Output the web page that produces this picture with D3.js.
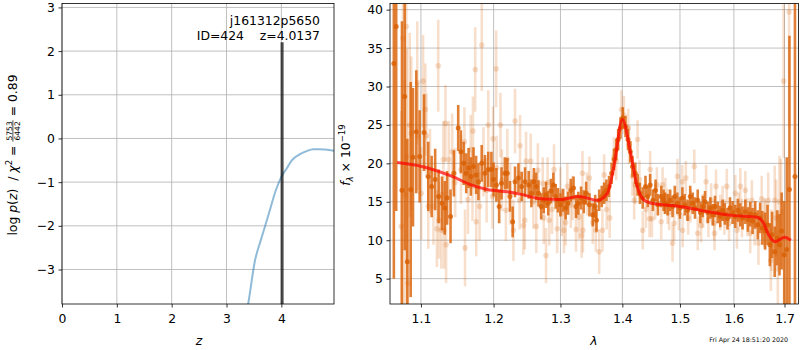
<!DOCTYPE html>
<html>
<head>
<meta charset="utf-8">
<script src="https://cdn.jsdelivr.net/npm/d3@7"></script>
<style>
  body { margin: 0; background: #fff; }
  svg { display: block; font-family: "DejaVu Sans", sans-serif; }
</style>
</head>
<body>
<svg id="fig" width="800" height="350"></svg>
<script>
// ---- redshift probability panel ----
const zGrid = [3.30, 3.40, 3.52, 3.62, 3.70, 3.80, 3.89, 4.00, 4.10, 4.19, 4.34, 4.46, 4.58, 4.70, 4.80, 4.96];
const logPz = [-4.40, -3.75, -2.79, -2.35, -2.02, -1.60, -1.22, -0.88, -0.68, -0.50, -0.36, -0.29, -0.245, -0.245, -0.255, -0.28];
const zBest = 4.0137;
const zTicks = [0, 1, 2, 3, 4];
const pTicks = [-3, -2, -1, 0, 1, 2, 3];

// ---- spectrum panel ----
// primary extraction
const waveDark = [1.0649,1.0679,1.0753,1.0788,1.0822,1.0866,1.0896,1.0939,1.0983,1.1041,1.1097,1.1142,1.1189,1.1235,1.1281,1.1318,1.1350,1.1397,1.1443,1.1502,
  1.1539,1.1577,1.1613,1.1646,1.1678,1.1715,1.1751,1.1784,1.1830,1.1876,1.1923,1.1968,1.2000,1.2040,1.2080,1.2114,1.2163,1.2199,1.2237,1.2277,
  1.2312,1.2362,1.2411,1.2460,1.2515,1.2555,1.2593,1.2629,1.2663,1.2703,1.2742,1.2777,1.2811,1.2852,1.2890,1.2926,1.2960,1.3000,1.3042,1.3081,
  1.3119,1.3162,1.3205,1.3244,1.3281,1.3325,1.3367,1.3406,1.3459,1.3513,1.3552,1.3573,1.3617,1.3659,1.3698,1.3735,1.3779,1.3821,1.3860,1.3898,
  1.3930,1.3968,1.4007,1.4053,1.4095,1.4135,1.4170,1.4218,1.4258,1.4298,1.4346,1.4393,1.4433,1.4474,1.4521,1.4568,1.4609,1.4667,1.4709,1.4732,
  1.4779,1.4825,1.4867,1.4907,1.4954,1.5000,1.5044,1.5087,1.5137,1.5185,1.5230,1.5272,1.5322,1.5370,1.5415,1.5457,1.5507,1.5556,1.5600,1.5643,
  1.5693,1.5741,1.5785,1.5828,1.5878,1.5926,1.5976,1.6027,1.6077,1.6124,1.6168,1.6221,1.6271,1.6317,1.6362,1.6414,1.6464,1.6511,1.6555,1.6607,
  1.6658,1.6704,1.6749,1.6801,1.6851,1.6898,1.6942,1.6994,1.7046,1.7100,1.7214];
const fluxDark = [33.0,37.8,16.5,28.7,7.2,16.6,20.8,24.1,20.9,24.0,18.3,17.0,17.9,15.7,14.8,14.2,15.5,13.1,18.7,24.6,
  21.5,20.0,18.7,19.4,18.3,19.6,18.5,17.6,20.0,18.7,19.2,19.2,17.9,17.2,14.4,17.4,18.7,18.7,15.7,12.4,
  17.6,18.1,17.0,17.6,17.2,16.1,17.6,17.0,16.1,14.4,15.2,15.9,14.8,16.4,17.2,15.7,15.2,14.6,15.2,14.2,
  14.8,16.5,16.8,14.4,14.8,15.5,15.0,16.1,14.6,13.3,14.4,12.6,15.2,15.7,16.1,16.5,17.0,18.7,20.5,21.8,
  23.1,24.6,25.9,24.8,23.1,21.5,19.6,18.7,17.2,16.1,15.5,17.0,15.7,17.2,15.2,16.5,14.6,15.7,15.2,14.8,
  14.6,15.2,14.4,15.7,14.8,14.2,15.5,14.6,13.9,15.7,14.8,14.2,15.2,13.6,14.4,15.0,13.6,14.2,13.3,14.4,
  13.6,13.1,13.9,13.4,12.8,14.2,13.6,13.1,13.9,13.3,12.9,13.7,12.7,13.4,12.5,13.3,12.0,12.9,11.6,11.2,
  12.0,9.4,10.7,8.5,10.3,9.4,11.2,8.1,8.8,16.6,18.3];
const errDark = [28,24,22,20,16,14,9,8,6,5,4.5,4,4,3.5,3.5,3.5,3.5,3.5,3,3,
  2.8,2.8,2.6,2.6,2.5,2.5,2.5,2.4,2.4,2.4,2.3,2.3,2.2,2.2,2.2,2.1,2.1,2.0,2.0,2.0,
  2.0,1.9,1.9,1.9,1.8,1.8,1.8,1.8,1.7,1.7,1.7,1.7,1.6,1.6,1.6,1.6,1.6,1.5,1.5,1.5,
  1.5,1.5,1.5,1.5,1.5,1.5,1.5,1.5,1.5,1.5,1.5,1.5,1.4,1.4,1.4,1.4,1.4,1.4,1.4,1.4,
  1.4,1.4,1.4,1.4,1.4,1.4,1.4,1.4,1.4,1.4,1.4,1.4,1.4,1.4,1.4,1.4,1.4,1.4,1.4,1.4,
  1.4,1.4,1.4,1.4,1.4,1.4,1.4,1.4,1.4,1.4,1.4,1.4,1.4,1.4,1.4,1.4,1.4,1.4,1.4,1.4,
  1.4,1.4,1.4,1.4,1.4,1.4,1.5,1.5,1.5,1.5,1.5,1.6,1.6,1.6,1.7,1.8,1.9,2.0,2.2,2.4,
  2.6,2.8,3.0,3.3,3.6,4.0,5,7,12,20,30];

// second extraction, drawn faint
const waveLight = [1.0744,1.0766,1.0788,1.0809,1.0815,1.0831,1.0853,1.0874,1.0952,1.0961,1.1004,1.1028,1.1059,1.1073,1.1097,1.1120,1.1166,1.1212,1.1230,1.1240,
  1.1272,1.1300,1.1308,1.1328,1.1336,1.1373,1.1419,1.1460,1.1540,1.1588,1.1596,1.1638,1.1675,1.1700,1.1707,1.1739,1.1753,1.1800,1.1831,1.1855,
  1.1900,1.1924,1.1983,1.1992,1.2036,1.2044,1.2099,1.2120,1.2178,1.2199,1.2240,1.2288,1.2312,1.2380,1.2386,1.2436,1.2456,1.2475,1.2545,1.2585,
  1.2629,1.2653,1.2727,1.2742,1.2777,1.2801,1.2826,1.2870,1.2900,1.2949,1.3000,1.3020,1.3054,1.3081,1.3107,1.3162,1.3190,1.3244,1.3290,1.3334,
  1.3347,1.3355,1.3420,1.3459,1.3513,1.3562,1.3617,1.3670,1.3698,1.3740,1.3789,1.3860,1.3898,1.3984,1.4025,1.4100,1.4112,1.4170,1.4200,1.4218,
  1.4258,1.4288,1.4346,1.4400,1.4463,1.4474,1.4504,1.4560,1.4591,1.4667,1.4691,1.4740,1.4779,1.4807,1.4867,1.4895,1.4954,1.4980,1.5040,1.5048,
  1.5106,1.5148,1.5190,1.5259,1.5322,1.5383,1.5420,1.5476,1.5519,1.5570,1.5626,1.5634,1.5661,1.5741,1.5785,1.5820,1.5865,1.5907,1.6027,1.6058,
  1.6090,1.6124,1.6155,1.6221,1.6260,1.6317,1.6348,1.6400,1.6478,1.6542,1.6594,1.6620,1.6671,1.6724,1.6735,1.6801,1.6832,1.6865,1.6898,1.6929,
  1.6981,1.7094];
const fluxLight = [11.8,36.3,15.9,37.8,20.9,4.4,25.0,23.9,30.5,23.5,16.1,30.7,27.0,23.6,14.4,19.0,14.4,11.5,32.7,12.6,
  11.3,20.5,11.3,25.2,9.4,20.5,21.5,17.5,19.2,22.8,9.0,15.3,21.8,17.0,24.2,32.2,12.4,14.4,35.4,20.2,
  16.5,25.0,15.7,23.2,32.3,19.4,25.0,17.8,13.9,20.5,16.0,11.3,25.5,15.2,22.3,11.9,12.6,20.3,20.3,15.0,
  11.8,19.1,17.4,12.9,8.0,17.5,12.6,14.0,19.2,11.5,16.4,13.5,11.3,12.3,17.0,14.6,15.5,11.4,13.0,10.6,
  18.7,11.3,16.0,18.1,12.3,11.3,8.5,11.3,18.5,14.0,12.9,20.9,20.3,27.0,26.3,24.6,22.4,18.3,15.2,17.2,
  23.1,17.9,11.3,14.0,12.8,19.2,12.8,15.0,17.2,12.4,17.2,15.8,14.4,13.6,9.6,12.2,18.3,13.5,17.6,11.3,
  18.1,12.9,14.5,19.6,10.9,11.9,13.8,17.6,12.6,15.2,12.2,10.9,17.0,13.6,14.8,13.0,17.0,12.2,16.1,11.3,
  13.8,17.0,12.9,16.5,13.0,10.9,15.2,12.0,9.6,15.4,12.3,12.0,15.2,7.4,10.0,15.2,12.9,6.3,15.0,13.6,
  30.7,39.7];
const errLight = [15,20,15,18,14,15,12,10,8,7,6,6,6,5.5,5.5,5.5,5,5,6,5,
  5,5,5,5,5,5,5,4.5,4.5,4.5,5,4.5,4.5,4.5,4.5,5.5,4.5,4.5,6,4.5,
  4.2,4.5,4.2,4.2,5,4.2,4.2,4,4,4,4,4,4.2,3.8,4,3.8,3.8,3.8,3.6,3.5,
  3.5,3.5,3.4,3.4,3.6,3.3,3.3,3.2,3.3,3.2,3.1,3.0,3.0,3.0,3.0,3.0,2.9,2.9,2.9,2.9,
  2.9,2.9,2.8,2.8,2.8,2.8,2.9,2.8,2.7,2.6,2.6,2.5,2.5,2.5,2.5,2.5,2.5,2.5,2.5,2.5,
  2.5,2.5,2.5,2.4,2.4,2.4,2.4,2.3,2.3,2.3,2.3,2.3,2.3,2.3,2.4,2.3,2.3,2.2,2.2,2.2,
  2.2,2.2,2.2,2.2,2.2,2.2,2.2,2.2,2.2,2.2,2.2,2.2,2.2,2.3,2.3,2.3,2.3,2.3,2.4,2.4,
  2.4,2.4,2.5,2.5,2.5,2.6,2.6,2.7,2.8,3.0,3.2,3.3,3.6,4,4,4.5,5,5,6,7,
  10,15];

// best-fit template
const waveModel = [1.069,1.101,1.142,1.168,1.191,1.220,1.239,1.269,1.299,1.329,1.359,1.375,1.386,1.400,1.414,1.425,1.437,1.449,1.501,1.551,1.600,1.645,1.658,1.668,1.681,1.700,1.713];
const fluxModel = [20.1,19.6,18.3,17.2,16.6,16.3,16.0,15.4,15.3,15.7,15.2,16.1,19.6,25.7,21.3,17.0,15.2,14.8,14.4,13.7,13.2,13.0,12.2,10.7,9.8,10.4,10.0];

const lamTicks = [1.1, 1.2, 1.3, 1.4, 1.5, 1.6, 1.7];
const fluxTicks = [5, 10, 15, 20, 25, 30, 35, 40];

const specColor = "#d95f02";
const fontSize = 12.4;

const svg = d3.select("#fig");

function frame(g, x, y, xTicks, yTicks, xFmt, yFmt) {
  const [x0, x1] = x.range(), [y0, y1] = y.range();
  const grid = g.append("g").attr("stroke", "#b0b0b0").attr("stroke-width", 0.8);
  xTicks.forEach(t => grid.append("line").attr("x1", x(t)).attr("x2", x(t)).attr("y1", y0).attr("y2", y1));
  yTicks.forEach(t => grid.append("line").attr("x1", x0).attr("x2", x1).attr("y1", y(t)).attr("y2", y(t)));
}

function axes(g, x, y, xTicks, yTicks, xFmt, yFmt) {
  const [x0, x1] = x.range(), [y0, y1] = y.range();
  const xa = d3.axisBottom(x).tickValues(xTicks).tickFormat(xFmt).tickSize(3.5).tickPadding(3.5);
  const ya = d3.axisLeft(y).tickValues(yTicks).tickFormat(yFmt).tickSize(3.5).tickPadding(3.5);
  const gx = g.append("g").attr("transform", `translate(0,${y0})`).call(xa);
  const gy = g.append("g").attr("transform", `translate(${x0},0)`).call(ya);
  [gx, gy].forEach(a => {
    a.select(".domain").remove();
    a.selectAll("line").attr("stroke", "#000").attr("stroke-width", 0.8);
    a.selectAll("text").attr("font-size", fontSize).attr("fill", "#000")
      .attr("font-family", "DejaVu Sans, sans-serif");
  });
  gx.selectAll("text").attr("dy", "0.95em");
  g.append("rect").attr("x", x0).attr("y", y1).attr("width", x1 - x0).attr("height", y0 - y1)
    .attr("fill", "none").attr("stroke", "#000").attr("stroke-width", 0.8);
}

const minus = v => String(v).replace("-", "\u2212");

// ================= left panel =================
const xL = d3.scaleLinear().domain([0, 4.96]).range([62, 334]);
const yL = d3.scaleLinear().domain([-3.79, 3.09]).range([304, 3.5]);
const gL = svg.append("g");
svg.append("clipPath").attr("id", "clipL").append("rect")
  .attr("x", 62).attr("y", 3.5).attr("width", 272).attr("height", 300.5);

frame(gL, xL, yL, zTicks, pTicks);
const pL = gL.append("g").attr("clip-path", "url(#clipL)");
pL.append("path")
  .datum(zGrid.map((z, i) => [z, logPz[i]]))
  .attr("d", d3.line().x(d => xL(d[0])).y(d => yL(d[1])).curve(d3.curveMonotoneX))
  .attr("fill", "none").attr("stroke", "#1f77b4").attr("stroke-opacity", 0.5).attr("stroke-width", 2);
pL.append("line")
  .attr("x1", xL(zBest)).attr("x2", xL(zBest))
  .attr("y1", yL(-3.79)).attr("y2", yL(2.2))
  .attr("stroke", "#000").attr("stroke-opacity", 0.7).attr("stroke-width", 3);
axes(gL, xL, yL, zTicks, pTicks, d => d, minus);

gL.append("text").attr("x", 320).attr("y", 25).attr("text-anchor", "end")
  .attr("font-size", fontSize).text("j161312p5650");
gL.append("text").attr("x", 320).attr("y", 40).attr("text-anchor", "end")
  .attr("font-size", fontSize).text("ID=424\u00a0\u00a0\u00a0\u00a0z=" + zBest.toFixed(4));

gL.append("text").attr("x", xL(2.5)).attr("y", 345).attr("text-anchor", "middle")
  .attr("font-size", fontSize).attr("font-style", "italic").text("z");

// rotated y label with stacked fraction
{
  const lab = svg.append("g").attr("transform", "translate(16.5,155) rotate(-90)");
  const inner = lab.append("g");
  const t1 = inner.append("text").attr("font-size", fontSize).attr("x", 0).attr("y", 0);
  t1.append("tspan").text("log\u00a0");
  t1.append("tspan").attr("font-style", "italic").text("p");
  t1.append("tspan").text("(");
  t1.append("tspan").attr("font-style", "italic").text("z");
  t1.append("tspan").text(")\u00a0\u00a0/\u00a0");
  t1.append("tspan").attr("font-style", "italic").text("\u03c7");
  t1.append("tspan").attr("font-size", 8.6).attr("dy", -5).text("2");
  t1.append("tspan").attr("dy", 5).text("\u00a0=\u00a0");
  const w1 = t1.node().getComputedTextLength();
  const fs = 7.6;
  const num = inner.append("text").attr("font-size", fs).attr("text-anchor", "middle").text("5753");
  const den = inner.append("text").attr("font-size", fs).attr("text-anchor", "middle").text("6442");
  const fw = Math.max(num.node().getComputedTextLength(), den.node().getComputedTextLength()) + 2;
  num.attr("x", w1 + fw / 2).attr("y", -4.8);
  den.attr("x", w1 + fw / 2).attr("y", 3.2);
  inner.append("line").attr("x1", w1).attr("x2", w1 + fw).attr("y1", -3.6).attr("y2", -3.6)
    .attr("stroke", "#000").attr("stroke-width", 0.7);
  const t3 = inner.append("text").attr("font-size", fontSize).attr("x", w1 + fw).attr("y", 0).text("\u00a0=\u00a00.89");
  const W = w1 + fw + t3.node().getComputedTextLength();
  inner.attr("transform", `translate(${-W / 2},0)`);
}

// ================= right panel =================
const xR = d3.scaleLog().domain([1.060, 1.7287]).range([390, 798.5]);
const yR = d3.scaleLinear().domain([1.7, 40.8]).range([304, 3.5]);
const gR = svg.append("g");
svg.append("clipPath").attr("id", "clipR").append("rect")
  .attr("x", 390).attr("y", 3.5).attr("width", 408.5).attr("height", 300.5);

frame(gR, xR, yR, lamTicks, fluxTicks);
const pR = gR.append("g").attr("clip-path", "url(#clipR)");

function spectrum(wave, flux, err, alpha, r) {
  const s = pR.append("g");
  s.selectAll("line").data(wave).join("line")
    .attr("x1", d => xR(d)).attr("x2", d => xR(d))
    .attr("y1", (d, i) => yR(flux[i] - err[i])).attr("y2", (d, i) => yR(flux[i] + err[i]))
    .attr("stroke", specColor).attr("stroke-opacity", alpha).attr("stroke-width", 2.6);
  s.selectAll("circle").data(wave).join("circle")
    .attr("cx", d => xR(d)).attr("cy", (d, i) => yR(flux[i])).attr("r", r)
    .attr("fill", specColor).attr("fill-opacity", alpha);
}
spectrum(waveLight, fluxLight, errLight, 0.2, 2.8);
spectrum(waveDark, fluxDark, errDark, 0.8, 2.5);

pR.append("path")
  .datum(waveModel.map((w, i) => [w, fluxModel[i]]))
  .attr("d", d3.line().x(d => xR(d[0])).y(d => yR(d[1])).curve(d3.curveMonotoneX))
  .attr("fill", "none").attr("stroke", "red").attr("stroke-opacity", 0.7).attr("stroke-width", 3)
  .attr("stroke-linejoin", "round");

axes(gR, xR, yR, lamTicks, fluxTicks, d3.format(".1f"), d => d);

gR.append("text").attr("x", 594).attr("y", 345).attr("text-anchor", "middle")
  .attr("font-size", fontSize).attr("font-style", "italic").text("\u03bb");

{
  const t = svg.append("text").attr("font-size", fontSize).attr("text-anchor", "middle")
    .attr("transform", "translate(349.5,155) rotate(-90)");
  t.append("tspan").attr("font-style", "italic").text("f");
  t.append("tspan").attr("font-style", "italic").attr("font-size", 8.6).attr("dy", 3).text("\u03bb");
  t.append("tspan").attr("dy", -3).text("\u00a0\u00d7\u00a010");
  t.append("tspan").attr("font-size", 8.6).attr("dy", -5).text("\u221219");
}

svg.append("text").attr("x", 788).attr("y", 341.5).attr("text-anchor", "end")
  .attr("font-size", 6.3).text("Fri Apr 24 18:51:20 2020");
</script>
</body>
</html>
